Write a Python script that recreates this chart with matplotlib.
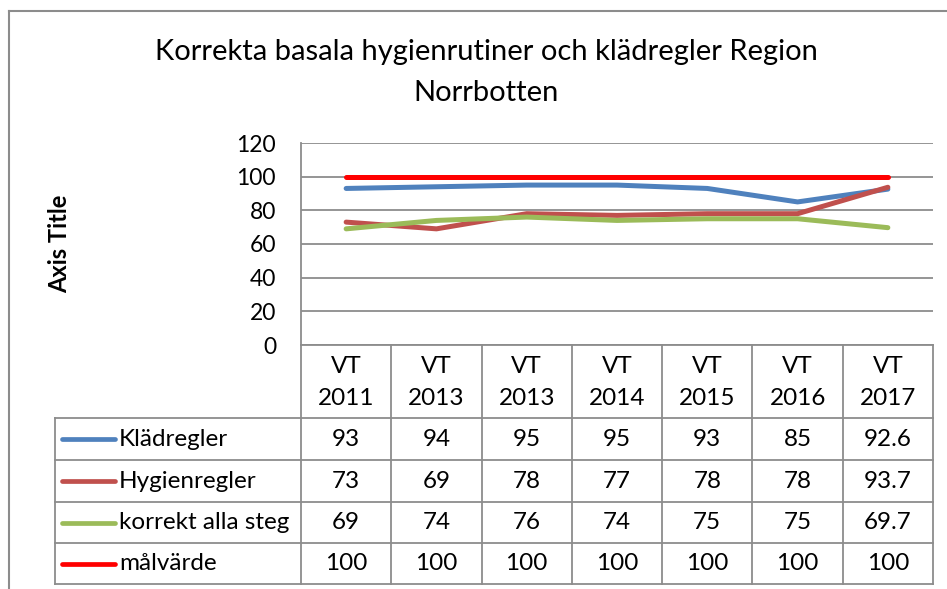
import matplotlib
matplotlib.use("Agg")
import matplotlib.pyplot as plt
import matplotlib.transforms as mtransforms
from matplotlib.lines import Line2D

plt.rcParams['font.family'] = ['Lato', 'DejaVu Sans']

periods = ["VT\n2011", "VT\n2013", "VT\n2013", "VT\n2014", "VT\n2015", "VT\n2016", "VT\n2017"]
series_names = ["Klädregler", "Hygienregler", "korrekt alla steg", "målvärde"]
kladregler = [93, 94, 95, 95, 93, 85, 92.6]
hygienregler = [73, 69, 78, 77, 78, 78, 93.7]
korrekt = [69, 74, 76, 74, 75, 75, 69.7]
malvarde = [100, 100, 100, 100, 100, 100, 100]
colors = ["#4F81BD", "#C0504D", "#9BBB59", "#FF0000"]

W, H = 947, 589
fig = plt.figure(figsize=(W / 100, H / 100), dpi=100)

def fx(px):
    return px / W

def fy(py):
    return 1 - py / H

grey = "#8C8C8C"
fs_table = 17.5

# plot area
ax_l, ax_r, ax_t, ax_b = 301, 933, 143, 345
ax = fig.add_axes([fx(ax_l), fy(ax_b), fx(ax_r) - fx(ax_l), fy(ax_t) - fy(ax_b)])

all_series = [kladregler, hygienregler, korrekt, malvarde]
x = list(range(len(periods)))
for vals, c in zip(all_series, colors):
    ax.plot(x, vals, color=c, lw=3.6, solid_capstyle='round', solid_joinstyle='round')

ax.set_xlim(-0.5, len(periods) - 0.5)
ax.set_ylim(0, 120)
ax.set_yticks(range(0, 121, 20))
ax.set_xticks([])
ax.grid(axis='y', color=grey, lw=1.3)
ax.set_axisbelow(True)
for s in ['top', 'right', 'bottom']:
    ax.spines[s].set_visible(False)
ax.spines['left'].set_color(grey)
ax.spines['left'].set_linewidth(1.3)
ax.tick_params(axis='y', length=0, labelsize=16.5, pad=18, colors='black')
ax.set_ylabel("Axis Title", fontsize=17, fontweight='bold', labelpad=0)
ax.yaxis.set_label_coords((60 - ax_l) / (ax_r - ax_l), 0.5)
ax.yaxis.label.set_va('center')

fig.text(fx(486), fy(72.5), "Korrekta basala hygienrutiner och klädregler Region\nNorrbotten",
         ha='center', va='center', fontsize=21, linespacing=1.7)

# data table
rows_y = [345, 418, 460, 502, 543, 584]
leg_l = 55
trans = mtransforms.blended_transform_factory(ax.transData, fig.transFigure)

def hline(x0, x1, y):
    fig.add_artist(Line2D([fx(x0), fx(x1)], [fy(y), fy(y)], color=grey, lw=1.3))

def vline(x0, y0, y1):
    fig.add_artist(Line2D([fx(x0), fx(x0)], [fy(y0), fy(y1)], color=grey, lw=1.3))

hline(ax_l, ax_r, rows_y[0])
for yy in rows_y[1:]:
    hline(leg_l, ax_r, yy)
vline(leg_l, rows_y[1], rows_y[-1])
col_w = (ax_r - ax_l) / len(periods)
for i in range(len(periods) + 1):
    vline(ax_l + i * col_w, rows_y[0], rows_y[-1])

for i, p in enumerate(periods):
    fig.text(i, fy((rows_y[0] + rows_y[1]) / 2 + 1), p, transform=trans,
             ha='center', va='center', fontsize=fs_table, linespacing=1.6)

for r, (name, vals, c) in enumerate(zip(series_names, all_series, colors)):
    yc = fy((rows_y[r + 1] + rows_y[r + 2]) / 2)
    fig.add_artist(Line2D([fx(62), fx(115)], [yc, yc], color=c, lw=3.4,
                          solid_capstyle='round'))
    fig.text(fx(119), yc, name, ha='left', va='center', fontsize=fs_table)
    for i, v in enumerate(vals):
        fig.text(i, yc, f"{v:g}", transform=trans, ha='center', va='center',
                 fontsize=fs_table)

# chart border
fig.add_artist(Line2D([fx(9), fx(9)], [fy(11), 0], color=grey, lw=1.5))
fig.add_artist(Line2D([fx(9), 1], [fy(11), fy(11)], color=grey, lw=1.5))

fig.savefig("out.png", dpi=100)
